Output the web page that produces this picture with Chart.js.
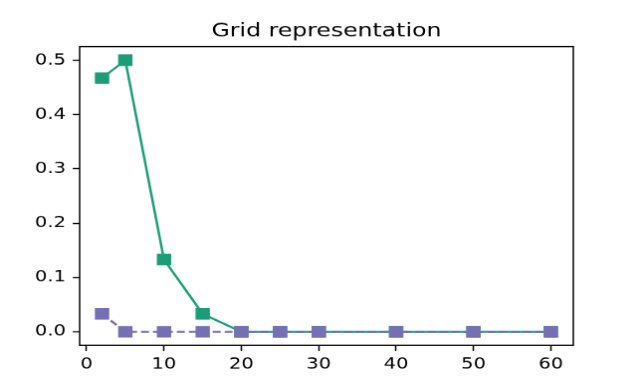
<!DOCTYPE html>
<html lang="en">
<head>
    <meta charset="UTF-8">
    <title>Grid representation</title>
    <script src="https://cdn.jsdelivr.net/npm/chart.js"></script>
    <style>
        body {
            margin: 0;
            background: #fff;
        }
        #wrap {
            width: 637px;
            height: 388px;
            overflow: hidden;
        }
        /* the original figure was 640x480, squeezed to 637x388 */
        #myChart {
            width: 637px !important;
            height: 388px !important;
        }
    </style>
</head>
<body>
    <div id="wrap"><canvas id="myChart" width="640" height="480"></canvas></div>

    <script>
        // Datos
        const gridSizes = [2, 5, 10, 15, 20, 25, 30, 40, 50, 60];
        const greenValues = [0.467, 0.5, 0.133, 0.033, 0, 0, 0, 0, 0, 0];
        const purpleValues = [0.033, 0, 0, 0, 0, 0, 0, 0, 0, 0];
        const xTicks = [0, 10, 20, 30, 40, 50, 60];
        const yTicks = [0.0, 0.1, 0.2, 0.3, 0.4, 0.5];

        const green = '#1b9e77';
        const purple = '#7570b3';

        const toPoints = vals => gridSizes.map((x, i) => ({ x: x, y: vals[i] }));

        // marco alrededor del area de la grafica
        const frame = {
            id: 'frame',
            afterDraw(chart) {
                const a = chart.chartArea;
                const ctx = chart.ctx;
                ctx.save();
                ctx.strokeStyle = '#000';
                ctx.lineWidth = 1.5;
                ctx.strokeRect(a.left, a.top, a.right - a.left, a.bottom - a.top);
                ctx.restore();
            }
        };

        const tickFont = { family: 'DejaVu Sans', size: 19.5 };
        const tickGrid = {
            drawOnChartArea: false,
            drawTicks: true,
            tickLength: 6.9,
            tickWidth: 1.5,
            tickColor: '#000'
        };

        new Chart(document.getElementById('myChart'), {
            type: 'line',
            data: {
                datasets: [{
                    data: toPoints(greenValues),
                    borderColor: green,
                    backgroundColor: green,
                    borderWidth: 2.5,
                    pointStyle: 'rect',
                    pointRadius: 10.2,
                    pointHoverRadius: 10.2,
                    pointBorderWidth: 0,
                    order: 2
                }, {
                    data: toPoints(purpleValues),
                    borderColor: purple,
                    backgroundColor: purple,
                    borderWidth: 2.5,
                    borderDash: [8, 4],
                    pointStyle: 'rect',
                    pointRadius: 10.2,
                    pointHoverRadius: 10.2,
                    pointBorderWidth: 0,
                    order: 1
                }]
            },
            options: {
                responsive: false,
                animation: false,
                layout: {
                    padding: { left: 0, top: 0, right: 64, bottom: 0 }
                },
                plugins: {
                    legend: { display: false },
                    tooltip: { enabled: false },
                    title: {
                        display: true,
                        text: 'Grid representation',
                        fullSize: false,
                        color: '#000',
                        font: { family: 'DejaVu Sans', size: 23.7, weight: 'normal', lineHeight: 1.2 },
                        padding: { top: 24.2, bottom: 5 }
                    }
                },
                scales: {
                    x: {
                        type: 'linear',
                        min: -0.9,
                        max: 62.9,
                        afterBuildTicks: s => { s.ticks = xTicks.map(v => ({ value: v })); },
                        afterFit: s => { s.height = 52.8; },
                        grid: tickGrid,
                        border: { display: false },
                        ticks: {
                            color: '#000',
                            font: tickFont,
                            padding: 5,
                            maxRotation: 0,
                            callback: v => v
                        }
                    },
                    y: {
                        min: -0.025,
                        max: 0.525,
                        afterBuildTicks: s => { s.ticks = yTicks.map(v => ({ value: v })); },
                        afterFit: s => { s.width = 80; },
                        grid: tickGrid,
                        border: { display: false },
                        ticks: {
                            color: '#000',
                            font: tickFont,
                            padding: 7,
                            callback: v => v.toFixed(1)
                        }
                    }
                }
            },
            plugins: [frame]
        });
    </script>
</body>
</html>
